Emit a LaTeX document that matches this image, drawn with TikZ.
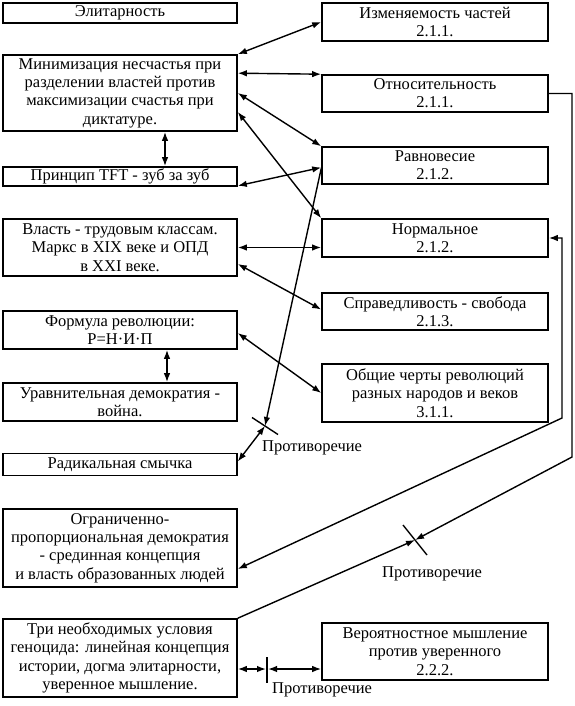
\documentclass[tikz,border=0pt]{standalone}
\usepackage{fontspec}
\setmainfont{Liberation Serif}
\usetikzlibrary{arrows.meta,calc}
\tikzset{
  >={Latex[length=9pt,width=6.5pt]},
  box/.style={draw, line width=1.6pt, inner sep=0pt, align=center,
    font=\fontsize{16.5pt}{18.3pt}\selectfont},
  lbox/.style={box, minimum width=234pt},
  rbox/.style={box, minimum width=226pt},
  con/.style={line width=1.4pt},
  lab/.style={inner sep=0pt, anchor=west, font=\fontsize{16.5pt}{18.3pt}\selectfont},
}
\begin{document}
\begin{tikzpicture}[x=1pt,y=-1pt]
\fill[white] (0,0) rectangle (574,706);
\useasboundingbox (0,0) rectangle (574,706);
% left column
\node[lbox, minimum height=20pt] (elit) at (120,13) {Элитарность};
\node[lbox, minimum height=76pt] (mini) at (120,93) {Минимизация несчастья при\\разделении властей против\\максимизации счастья при\\диктатуре.};
\node[lbox, minimum height=19pt] (tft) at (120,176.5) {Принцип TFT - зуб за зуб};
\node[lbox, minimum height=57pt] (vlast) at (120,247.5) {Власть - трудовым классам.\\Маркс в XIX веке и ОПД\\в XXI веке.};
\node[lbox, minimum height=38pt] (form) at (120,330) {Формула революции:\\Р=Н·И·П};
\node[lbox, minimum height=38pt] (urav) at (120,402) {Уравнительная демократия -\\война.};
\node[lbox, minimum height=22pt] (radik) at (120,464.5) {Радикальная смычка};
\node[lbox, minimum height=78pt] (ogr) at (120,548) {Ограниченно-\\пропорциональная демократия\\- срединная концепция\\и власть образованных людей};
\node[lbox, minimum height=78pt] (tri) at (120,658) {Три необходимых условия\\геноцида: линейная концепция\\истории, догма элитарности,\\уверенное мышление.};
% right column
\node[rbox, minimum height=38pt] (izm) at (435,22) {Изменяемость частей\\2.1.1.};
\node[rbox, minimum height=37pt] (otn) at (435,93.5) {Относительность\\2.1.1.};
\node[rbox, minimum height=37pt] (ravn) at (435,165.5) {Равновесие\\2.1.2.};
\node[rbox, minimum height=38pt] (norm) at (435,238) {Нормальное\\2.1.2.};
\node[rbox, minimum height=37pt] (sprav) at (435,311.5) {Справедливость - свобода\\2.1.3.};
\node[rbox, minimum height=58pt] (obsh) at (435,393) {Общие черты революций\\разных народов и веков\\3.1.1.};
\node[rbox, minimum height=57pt] (ver) at (435,651.5) {Вероятностное мышление\\против уверенного\\2.2.2.};
% junction coordinates
\coordinate (t1) at (265,426);
\coordinate (t2) at (415,540);
\coordinate (t3) at (267,669);
\coordinate (rA) at (572,93.5);
\coordinate (rB) at (572,457);
\coordinate (nA) at (562,238);
\coordinate (nB) at (562,418);
% connectors
\draw[con,<->] (mini.north east) -- (izm.west);
\draw[con,<->] ($(mini.north east)+(0,19)$) -- (otn.north west);
\draw[con,<->] (mini.east) -- (ravn.north west);
\draw[con,<->] ($(mini.east)+(0,19)$) -- (norm.north west);
\draw[con,<->] ($(mini.south)+(45,0)$) -- ($(tft.north)+(45,0)$);
\draw[con,<->] ($(tft.south east)+(0,-1)$) -- ($(ravn.west)+(0,2)$);
\draw[con,->] ($(ravn.west)+(0,3)$) -- (t1);
\draw[con,<->] ($(radik.east)+(0,-3)$) -- (t1);
\draw[con] ($(t1)+(-13,-8.5)$) -- ($(t1)+(13,8.5)$);
\draw[con,<->] (vlast.east) -- (vlast.east -| norm.west);
\draw[con,<->] ($(vlast.east)+(0,16.5)$) -- ($(sprav.west)+(0,-2)$);
\draw[con,<->] ($(form.east)+(0,3)$) -- (obsh.west);
\draw[con,<->] ($(form.south)+(47,0)$) -- ($(urav.north)+(47,0)$);
\draw[con,->] (otn.east) -- (rA) -- (rB) -- (t2);
\draw[con,<->] (norm.east) -- (nA) -- (nB) -- ($(ogr.east)+(0,21)$);
\draw[con,->] (tri.north east) -- (t2);
\draw[con] ($(t2)+(-12,-15)$) -- ($(t2)+(12,15)$);
\draw[con,<->] ($(tri.east)+(0,11)$) -- ($(t3)+(-1,0)$);
\draw[con,<->] ($(t3)+(1,0)$) -- (t3 -| ver.west);
\draw[con] ($(t3)+(0,-12)$) -- ($(t3)+(0,14)$);
% labels
\node[lab] (p1) at (262,448) {Противоречие};
\node[lab] (p2) at (382,574) {Противоречие};
\node[lab] (p3) at (272,690) {Противоречие};
\end{tikzpicture}
\end{document}
